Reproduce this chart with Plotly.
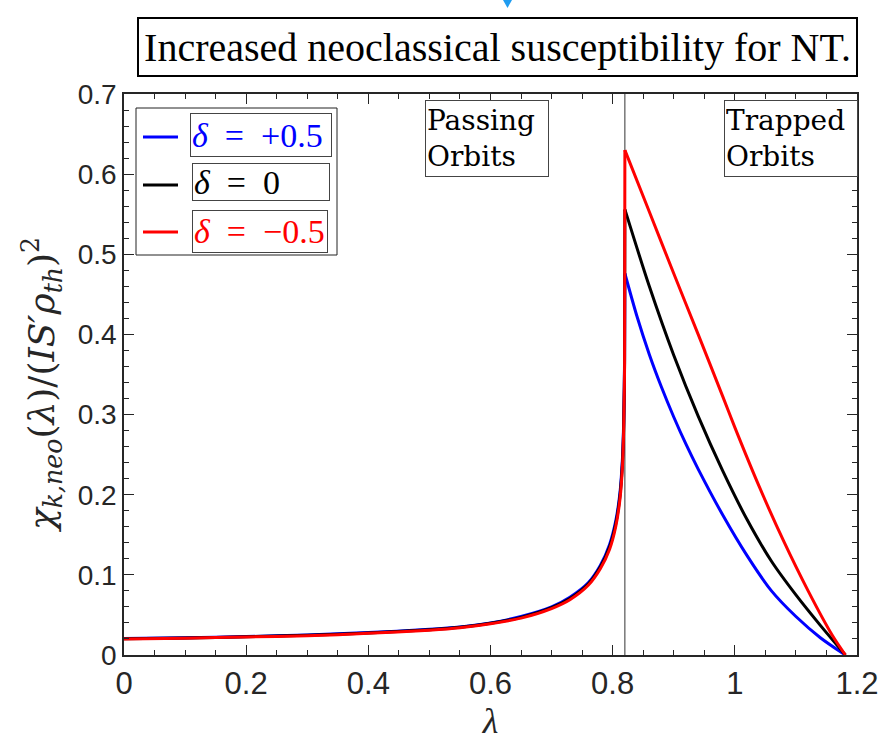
import plotly.graph_objects as go

# ---------------- data ----------------
lam_crit = 0.82
lam_pass = [0.0, 0.1, 0.2, 0.3, 0.4, 0.5, 0.55, 0.6, 0.65, 0.7, 0.73, 0.76,
            0.78, 0.795, 0.805, 0.812, 0.816, 0.818, 0.8195]
chi_pass_p05 = [0.0205, 0.0215, 0.023, 0.025, 0.028, 0.032, 0.035, 0.040, 0.048,
                0.060, 0.072, 0.090, 0.112, 0.138, 0.167, 0.203, 0.245, 0.29, 0.37]
chi_pass_0 = [0.0202, 0.0212, 0.0228, 0.0245, 0.0275, 0.0315, 0.0345, 0.0395, 0.047,
              0.059, 0.0705, 0.0885, 0.110, 0.135, 0.1635, 0.199, 0.240, 0.285, 0.365]
chi_pass_m05 = [0.020, 0.021, 0.0225, 0.024, 0.027, 0.031, 0.034, 0.039, 0.046,
                0.058, 0.069, 0.087, 0.108, 0.132, 0.160, 0.195, 0.235, 0.28, 0.36]

peak_p05, peak_0, peak_m05 = 0.476, 0.556, 0.630

lam_trap_p05 = [0.82, 0.84, 0.86, 0.88, 0.90, 0.92, 0.94, 0.98, 1.02, 1.06, 1.10, 1.14, 1.181]
chi_trap_p05 = [0.476, 0.422, 0.375, 0.334, 0.297, 0.263, 0.232, 0.175, 0.124, 0.080, 0.048, 0.0216, 0.0]
lam_trap_0 = [0.82, 0.86, 0.90, 0.94, 0.98, 1.02, 1.06, 1.10, 1.14, 1.181]
chi_trap_0 = [0.556, 0.460, 0.374, 0.298, 0.230, 0.169, 0.117, 0.075, 0.037, 0.0]
lam_trap_m05 = [0.82, 0.86, 0.90, 0.94, 0.98, 1.00, 1.04, 1.08, 1.12, 1.16, 1.181]
chi_trap_m05 = [0.630, 0.553, 0.476, 0.400, 0.323, 0.284, 0.210, 0.142, 0.080, 0.024, 0.0]

labels = ["<i>δ</i>\u2002=\u2002+0.5", "<i>δ</i>\u2002=\u20020", "<i>δ</i>\u2002=\u2002−0.5"]
colors = ["#0000ff", "#000000", "#ff0000"]

x_tick0, x_dtick, x_minor = 0, 0.2, 0.05   # tick labels: 0, 0.2, 0.4, 0.6, 0.8, 1, 1.2
y_tick0, y_dtick, y_minor = 0, 0.1, 0.02   # tick labels: 0, 0.1, ..., 0.7

title_text = "Increased neoclassical susceptibility for NT."
x_title = "<i>λ</i>"
y_title = "<i>χ<sub>k,neo</sub></i>(<i>λ</i>)/(<i>IS′ρ<sub>th</sub></i>)<sup>2</sup>"

# ---------------- figure ----------------
series = [
    (lam_pass, chi_pass_p05, peak_p05, lam_trap_p05, chi_trap_p05),
    (lam_pass, chi_pass_0, peak_0, lam_trap_0, chi_trap_0),
    (lam_pass, chi_pass_m05, peak_m05, lam_trap_m05, chi_trap_m05),
]
fig = go.Figure()
for (xp, yp, pk, xt, yt), c, n in zip(series, colors, labels):
    fig.add_trace(go.Scatter(x=xp + [lam_crit], y=yp + [pk], mode="lines", name=n,
                             line=dict(color=c, width=3, shape="spline", smoothing=0.8),
                             showlegend=False))
    fig.add_trace(go.Scatter(x=xt, y=yt, mode="lines", name=n,
                             line=dict(color=c, width=3, shape="spline", smoothing=0.8),
                             showlegend=False))

axcol = "#262626"
W, H = 895, 742
L, R, T, B = 124, 38, 94, 87
pw, ph = W - L - R, H - T - B


def px(xp):
    return (xp - L) / pw


def py(yp):
    return (H - B - yp) / ph


fig.update_layout(
    width=W, height=H,
    margin=dict(l=L, r=R, t=T, b=B),
    paper_bgcolor="white", plot_bgcolor="white",
    xaxis=dict(range=[0, 1.2], tickmode="linear", tick0=x_tick0, dtick=x_dtick,
               ticks="inside", ticklen=10, tickwidth=1.2, tickcolor=axcol,
               showline=True, linecolor=axcol, linewidth=1.5, mirror="allticks",
               showgrid=False, zeroline=False, automargin=False, layer="above traces",
               minor=dict(dtick=x_minor, ticks="inside", ticklen=5,
                          tickwidth=1, tickcolor=axcol, showgrid=False),
               tickfont=dict(family="Liberation Sans, Arial", size=31, color=axcol),
               title=dict(text=x_title, font=dict(family="Liberation Serif", size=36, color=axcol),
                          standoff=8)),
    yaxis=dict(range=[0, 0.7], tickmode="linear", tick0=y_tick0, dtick=y_dtick,
               ticks="inside", ticklen=10, tickwidth=1.2, tickcolor=axcol,
               showline=True, linecolor=axcol, linewidth=1.5, mirror="allticks",
               showgrid=False, zeroline=False, automargin=False, layer="above traces",
               minor=dict(dtick=y_minor, ticks="inside", ticklen=5,
                          tickwidth=1, tickcolor=axcol, showgrid=False),
               tickfont=dict(family="Liberation Sans, Arial", size=28, color=axcol)),
)

shapes = []
annotations = []

# y-axis title as rotated annotation
annotations.append(dict(xref="paper", yref="paper", x=px(42), y=py(385),
                        xanchor="center", yanchor="middle", showarrow=False,
                        textangle=-90, text=y_title,
                        font=dict(family="DejaVu Serif", size=36, color=axcol)))

# vertical separator
shapes.append(dict(type="line", xref="x", yref="y", x0=lam_crit, x1=lam_crit, y0=0, y1=0.7,
                   line=dict(color="#333333", width=1), layer="below"))

# title box
annotations.append(dict(xref="paper", yref="paper", x=px(497.5), y=py(47),
                        xanchor="center", yanchor="middle", showarrow=False,
                        text=title_text, width=715, height=54,
                        font=dict(family="Liberation Serif", size=40, color="black"),
                        bordercolor="black", borderwidth=2, borderpad=1, bgcolor="white"))

# small blue arrow head at top
shapes.append(dict(type="path", xref="paper", yref="paper",
                   path=f"M {px(503)} {py(0)} L {px(512)} {py(0)} L {px(507.5)} {py(8)} Z",
                   fillcolor="#1f9cf0", line=dict(width=0)))

# region labels
annotations.append(dict(xref="paper", yref="paper", x=px(487), y=py(138.5),
                        xanchor="center", yanchor="middle", showarrow=False,
                        text="Passing<br>Orbits", align="left", width=120, height=73,
                        font=dict(family="DejaVu Serif", size=28, color="black"),
                        bordercolor="#444444", borderwidth=1, borderpad=1, bgcolor="white"))
annotations.append(dict(xref="paper", yref="paper", x=px(791), y=py(138.5),
                        xanchor="center", yanchor="middle", showarrow=False,
                        text="Trapped<br>Orbits", align="left", width=130, height=73,
                        font=dict(family="DejaVu Serif", size=28, color="black"),
                        bordercolor="#444444", borderwidth=1, borderpad=1, bgcolor="white"))

# manual legend
shapes.append(dict(type="rect", xref="paper", yref="paper",
                   x0=px(136), x1=px(337), y0=py(255), y1=py(108),
                   line=dict(color="#222222", width=1), fillcolor="white"))
entry_y = [137, 185, 232]
box_geom = [(185, 337, 113, 157), (187, 335, 163, 201), (187, 333, 210, 253)]
for lab, c, ey, (bx0, bx1, by0, by1) in zip(labels, colors, entry_y, box_geom):
    shapes.append(dict(type="line", xref="paper", yref="paper",
                       x0=px(143), x1=px(178), y0=py(ey), y1=py(ey),
                       line=dict(color=c, width=3)))
    annotations.append(dict(xref="paper", yref="paper", x=px((bx0 + bx1) / 2), y=py((by0 + by1) / 2),
                            xanchor="center", yanchor="middle", showarrow=False,
                            text=lab, align="left", width=bx1 - bx0 - 14, height=by1 - by0 - 4,
                            font=dict(family="Liberation Serif", size=34, color=c),
                            bordercolor="#444444", borderwidth=1, borderpad=1, bgcolor="white"))

fig.update_layout(shapes=shapes, annotations=annotations)
fig.write_html("out.html")
